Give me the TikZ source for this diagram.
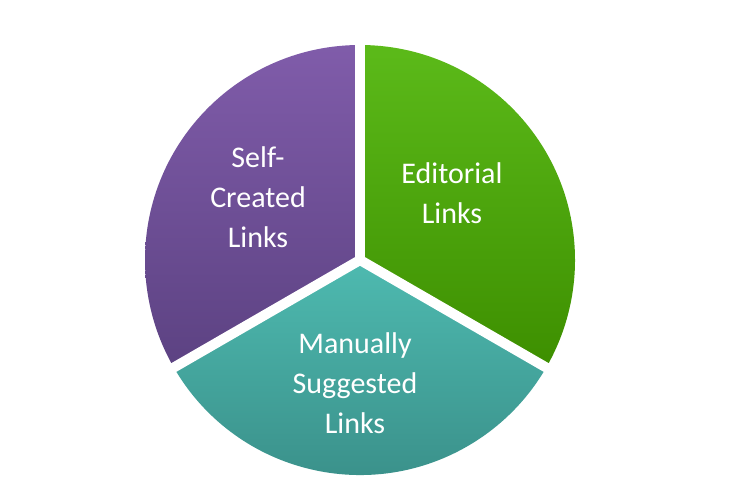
\documentclass[tikz,border=0pt]{standalone}
\usepackage{fontspec}
\setmainfont{Carlito}
\begin{document}
\begin{tikzpicture}[x=0.5pt,y=0.5pt,
    lbl/.style={text=white, align=center, font=\fontsize{15}{20}\selectfont}]
    \useasboundingbox (0,0) rectangle (731,499);

    % Sectors
    \shade[top color=green!45!lime!70!black!90!white, bottom color=green!40!olive!80!black]
        (360,239) -- (360,454) arc[start angle=90, end angle=-30, radius=215] -- cycle;
    \shade[top color={rgb,255:red,128;green,92;blue,170}, bottom color={rgb,255:red,92;green,66;blue,130}]
        (360,239) -- (360,454) arc[start angle=90, end angle=210, radius=215] -- cycle;
    \shade[top color={rgb,255:red,78;green,186;blue,176}, bottom color={rgb,255:red,56;green,140;blue,134}]
        (360,239) -- ++(210:215) arc[start angle=210, end angle=330, radius=215] -- cycle;

    % Gaps
    \draw[white, line width=5pt] (360,239) -- ++(90:220);
    \draw[white, line width=5pt] (360,239) -- ++(210:220);
    \draw[white, line width=5pt] (360,239) -- ++(-30:220);

    % Labels
    \node[lbl] (self) at (258,302) {Self-\\Created\\Links};
    \node[lbl] (edit) at (452,306) {Editorial\\Links};
    \node[lbl] (manual) at (355,116) {Manually\\Suggested\\Links};
\end{tikzpicture}
\end{document}
